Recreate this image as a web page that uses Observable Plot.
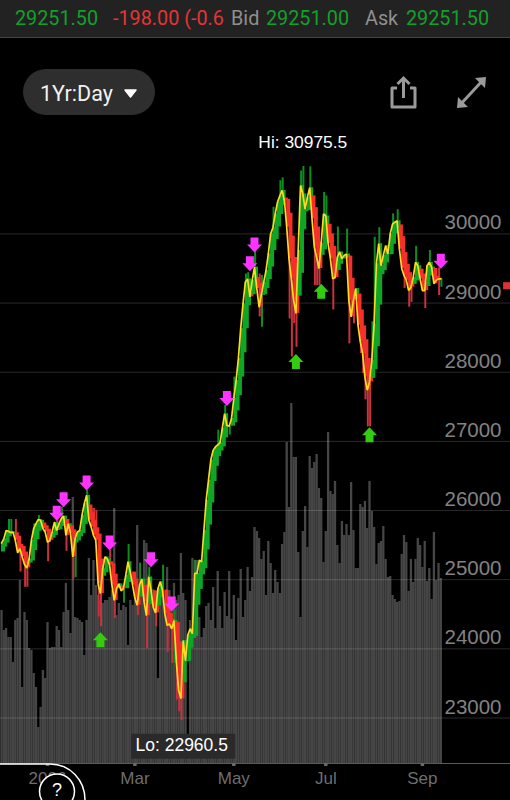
<!DOCTYPE html>
<html>
<head>
<meta charset="utf-8">
<script src="https://cdn.jsdelivr.net/npm/d3@7"></script>
<script src="https://cdn.jsdelivr.net/npm/@observablehq/plot@0.6"></script>
<style>
html,body{margin:0;padding:0;background:#000;width:510px;height:800px;overflow:hidden}
#wrap{position:relative;width:510px;height:800px;background:#000;overflow:hidden}
#bar{position:relative;height:37px;background:#222;border-bottom:1px solid #444;font:19.8px Roboto,sans-serif}
#bar span{position:absolute;top:7px;line-height:23px;white-space:nowrap}
.g{color:#12a02a}.r{color:#e23636}.k{color:#8f8f8f}
#pill{position:absolute;left:23px;top:69px;width:132px;height:46px;border-radius:23px;background:#2e2e2e;color:#f2f2f2;font:21.5px Roboto,sans-serif;line-height:49px}
#pill span{position:absolute;left:17px}
svg.ov{position:absolute;left:0;top:0;pointer-events:none}
#chart{position:absolute;left:0;top:38px}
#chart svg{display:block;background:transparent}
#q{position:absolute;left:47px;top:779.500px;width:20px;text-align:center;color:#fff;font:18px "Liberation Sans",sans-serif;line-height:20px}
</style>
</head>
<body>
<div id="wrap">
<div id="bar">
<span class="g" style="left:15px">29251.50</span>
<span class="r" style="left:113px">-198.00 (-0.6</span>
<span class="k" style="left:231px">Bid</span>
<span class="g" style="left:266px">29251.00</span>
<span class="k" style="left:365px">Ask</span>
<span class="g" style="left:406px">29251.50</span>
</div>
<div id="pill"><span>1Yr:Day</span></div>
<div id="chart"></div>
<svg class="ov" width="510" height="800">
<path d="M125 90H136L130.500 97Z" fill="#fff" stroke="#fff" stroke-width="1.5" stroke-linejoin="round"/>
<g fill="none" stroke="#9a9a9a" stroke-width="3">
<path d="M397 88H392V107H415V88H410" stroke-linejoin="round"/>
<path d="M403.500 98V79M397.500 84L403.500 78L409.500 84"/>
<path d="M459 106L484 79"/>
</g>
<path d="M486 77L485 88L475 78Z M457 108L458 97L468 107Z" fill="#9a9a9a"/>
<path d="M0 764H50C70 764 85 780 85 800" fill="none" stroke="#fff" stroke-width="1.5"/>
<circle cx="57" cy="791.500" r="17.500" fill="#000" stroke="#fff" stroke-width="1.5"/>
</svg>
<div id="q">?</div>
</div>
<script>
// Closing level (yellow line), one per trading day
const closes = [25530,25590,25710,25700,25680,25690,25570,25390,25450,25330,25220,25170,25300,25570,25740,25810,25870,25860,25740,25690,25540,25570,25690,25830,25710,25810,25880,25920,25640,25810,25670,25330,25590,25690,25710,25930,26100,26220,25860,25760,25640,25570,24940,24800,25160,25330,25300,25210,24920,24700,24870,24940,24840,24870,25060,25260,25110,24920,24730,24630,24920,25010,24680,24480,25040,24850,24600,24520,24870,24970,24850,24510,24340,24360,24290,24410,23830,23400,23280,24120,23830,24200,24290,24220,25090,25090,25280,25260,25710,26150,26440,26730,26870,26920,26950,26980,27190,27400,27230,27220,27330,27620,27880,28200,28630,28990,29300,29350,29090,29330,29520,29210,28940,29130,29300,29470,29710,30000,30090,30290,30460,30550,30630,30480,30100,29640,29350,29040,28850,29760,30700,30580,30360,30530,30670,30220,29810,29660,29500,29860,30290,30260,29860,29640,29350,29370,29660,29740,29640,29690,29710,29040,28800,29040,29210,28680,28440,28270,27930,27740,27860,28170,28700,29570,29860,29540,29690,29830,29710,30000,30140,30170,30190,29780,29500,29400,29330,29180,29230,29370,29590,29540,29350,29180,29180,29540,29590,29520,29280,29330,29350,29350];
// Opening level of each candle body
const opens = [25400,25470,25530,25620,25660,25670,25680,25630,25510,25480,25400,25310,25240,25270,25420,25580,25700,25780,25820,25780,25730,25640,25600,25640,25730,25720,25770,25820,25870,25750,25780,25720,25530,25560,25620,25670,25800,25950,26080,25970,25860,25750,25660,25300,25050,25100,25220,25260,25230,25080,24890,24880,24910,24870,24870,24960,25110,25110,25010,24870,24750,24830,24920,24800,24640,24840,24840,24720,24620,24740,24850,24850,24680,24510,24430,24360,24380,24100,23750,23510,23810,23820,24010,24150,24180,24630,24860,25070,25160,25430,25790,26110,26420,26640,26780,26860,26920,27050,27220,27220,27220,27270,27440,27660,27930,28280,28630,28960,29150,29120,29220,29370,29290,29110,29120,29210,29340,29520,29760,29920,30100,30280,30410,30520,30500,30300,29970,29660,29350,29100,29430,30060,30320,30340,30430,30550,30380,30100,29880,29690,29770,30030,30140,30000,29820,29580,29470,29560,29650,29640,29660,29680,29360,29080,29060,29130,28900,28670,28470,28200,27970,27910,28040,28370,28970,29410,29470,29580,29700,29700,29850,30000,30080,30130,29960,29730,29560,29440,29310,29270,29320,29450,29490,29420,29300,29240,29390,29490,29500,29390,29360,29350];
// Upper wicks that stand clear of the bodies
const highBars = [3,4,6,14,16,24,26,37,39,40,41,47,55,60,64,70,75,84,94,97,101,106,107,110,112,113,118,121,122,130,131,134,140,141,146,150,161,162,164,170,172,180,186,190];
const highTips = [25870,25870,25870,25810,25930,25930,26050,26290,26030,26030,26000,25420,25510,25240,25180,25210,24560,25280,27160,27520,27930,29420,29440,29760,29420,29400,30385,30770,30810,30910,30975,30970,30600,30550,30100,30070,28730,29950,30090,30290,30350,29820,29760,29510];
// Lower wicks that stand clear of the bodies
const lowBars = [8,10,11,20,28,31,32,42,43,49,53,59,63,67,72,74,75,76,77,78,99,112,113,125,126,127,128,136,137,138,144,151,153,156,157,158,159,160,175,177,178,184,190,191];
const lowTips = [25110,24890,24890,25260,25410,25010,25030,24460,24320,24440,24660,24480,24000,24320,23950,23790,23790,23260,23090,22960,27090,28800,28650,28770,28220,28700,28360,29250,29250,29250,28900,28410,28700,28270,27980,27600,27210,27210,29210,28940,29010,28920,29110,29230];
// Volume, hundreds of contracts
const volumes = [153,133,135,126,126,101,143,145,183,76,151,143,115,113,90,76,36,56,93,85,141,115,116,116,137,133,116,151,180,153,130,266,146,145,143,141,108,143,205,168,203,178,168,163,160,163,163,166,173,255,148,160,153,158,156,118,163,158,163,238,163,183,223,220,188,178,173,163,85,163,173,153,196,173,163,180,163,168,210,170,163,23,143,205,203,203,146,126,135,157,160,143,176,135,192,157,135,171,147,192,144,168,123,165,194,146,163,196,172,186,236,232,225,204,212,168,222,200,170,193,181,170,219,231,321,256,360,306,306,211,146,232,257,216,307,295,301,309,275,265,201,232,331,272,269,282,218,200,242,228,239,228,281,233,195,195,259,256,262,235,282,252,236,199,220,222,237,204,186,187,168,164,161,162,209,228,221,172,204,181,204,225,218,196,222,182,195,164,231,183,200,185,84,111];
// Signal arrows
const sellBars = [24,27,37,47,65,74,98,108,110,191];
const sellLevels = [25960,26155,26400,25530,25290,24650,27620,29570,29840,29605];
const buyBars = [43,128,139,160];
const buyLevels = [24130,28155,29170,27095];
// Axes
const priceTicks = [23000,24000,25000,26000,27000,28000,29000,30000];
const monthBars = [20,58,101,141,183];
const monthLabels = ["2026","Mar","May","Jul","Sep"];
const hiBar = 131, hiValue = 30975.5, loBar = 79, loValue = 22960.5, lastPrice = 29251.5;

const priceFloor = 22342;          // price level at the volume baseline
const pricePerVolume = 14.463;     // volume panel shares the price axis
const volLevel = v => priceFloor + v * pricePerVolume;

const days = closes.map((c, i) => ({i, c, o: opens[i], v: volumes[i]}));
const highs = highBars.map((i, k) => ({i, tip: highTips[k], base: Math.max(opens[i], closes[i]), up: closes[i] >= opens[i]}));
const lows = lowBars.map((i, k) => ({i, tip: lowTips[k], base: Math.min(opens[i], closes[i]), up: closes[i] >= opens[i]}));
const sells = sellBars.map((i, k) => ({i, y: sellLevels[k]}));
const buys = buyBars.map((i, k) => ({i, y: buyLevels[k]}));

const downArrow = {draw(c){c.moveTo(-4,-7.5);c.lineTo(4,-7.5);c.lineTo(4,-0.5);c.lineTo(7.5,-0.5);c.lineTo(0,7.5);c.lineTo(-7.5,-0.5);c.lineTo(-4,-0.5);c.closePath();}};
const upArrow = {draw(c){c.moveTo(-4,7.5);c.lineTo(4,7.5);c.lineTo(4,0.5);c.lineTo(7.5,0.5);c.lineTo(0,-7.5);c.lineTo(-7.5,0.5);c.lineTo(-4,0.5);c.closePath();}};
const loBox = {draw(c){c.rect(-52,13,104,25);}};

const chart = Plot.plot({
  width: 510, height: 762,
  marginTop: 0, marginRight: 0, marginLeft: 0, marginBottom: 37,
  style: {background: "transparent", fontFamily: "'Liberation Sans',sans-serif"},
  x: {type: "linear", domain: [-0.435, 221.3]},
  y: {domain: [priceFloor, 32826]},
  marks: [
    Plot.ruleX(days, {x: "i", y1: priceFloor, y2: d => volLevel(d.v), stroke: "#464646", strokeWidth: 2.3}),
    Plot.ruleY(priceTicks, {stroke: "#fff", strokeOpacity: 0.16, strokeWidth: 1}),
    Plot.ruleY([priceFloor], {stroke: "#5a5a5a", strokeWidth: 1}),
    Plot.ruleX(highs, {x: "i", y1: "base", y2: "tip", dx: 0.6, stroke: d => d.up ? "#0b8f20" : "#c8323c", strokeWidth: 2}),
    Plot.ruleX(lows, {x: "i", y1: "base", y2: "tip", dx: 0.6, stroke: d => d.up ? "#0b8f20" : "#c8323c", strokeWidth: 2}),
    Plot.ruleX(days, {x: "i", y1: "o", y2: "c", dx: 1.5, stroke: d => d.c >= d.o ? "#0fa526" : "#f5302a", strokeWidth: 4}),
    Plot.line(days, {x: "i", y: "c", stroke: "#ffd824", strokeWidth: 1.7, strokeLinejoin: "miter"}),
    Plot.dot(sells, {x: "i", y: "y", symbol: downArrow, fill: "#ff33ff", r: 7}),
    Plot.dot(buys, {x: "i", y: "y", symbol: upArrow, fill: "#33cc11", r: 7}),
    Plot.axisY(priceTicks, {anchor: "right", tickSize: 0, tickPadding: 0, textAnchor: "end", dx: -9, dy: -11, fontSize: 20.5, color: "#828282", tickFormat: d => String(d), label: null}),
    Plot.axisX(monthBars, {anchor: "bottom", tickSize: 3, strokeWidth: 3.5, stroke: "#6a6a6a", tickPadding: 5, fontSize: 17, color: "#6e6e6e", tickFormat: d => monthLabels[monthBars.indexOf(d)], label: null}),
    Plot.text([hiValue], {x: () => hiBar, y: () => hiValue, text: d => "Hi: " + d, dy: -24, fill: "#fff", fontSize: 17.4}),
    Plot.dot([loValue], {x: () => loBar, y: () => loValue, symbol: loBox, fill: "#2a2a2a", r: 5}),
    Plot.text([loValue], {x: () => loBar, y: () => loValue, text: d => "Lo: " + d, dy: 25, dx: -1.5, fill: "#fff", fontSize: 17.5}),
    Plot.ruleY([lastPrice], {x1: 218.3, x2: 221.3, stroke: "#e03030", strokeWidth: 7})
  ]
});
document.getElementById("chart").appendChild(chart);
</script>
</body>
</html>
